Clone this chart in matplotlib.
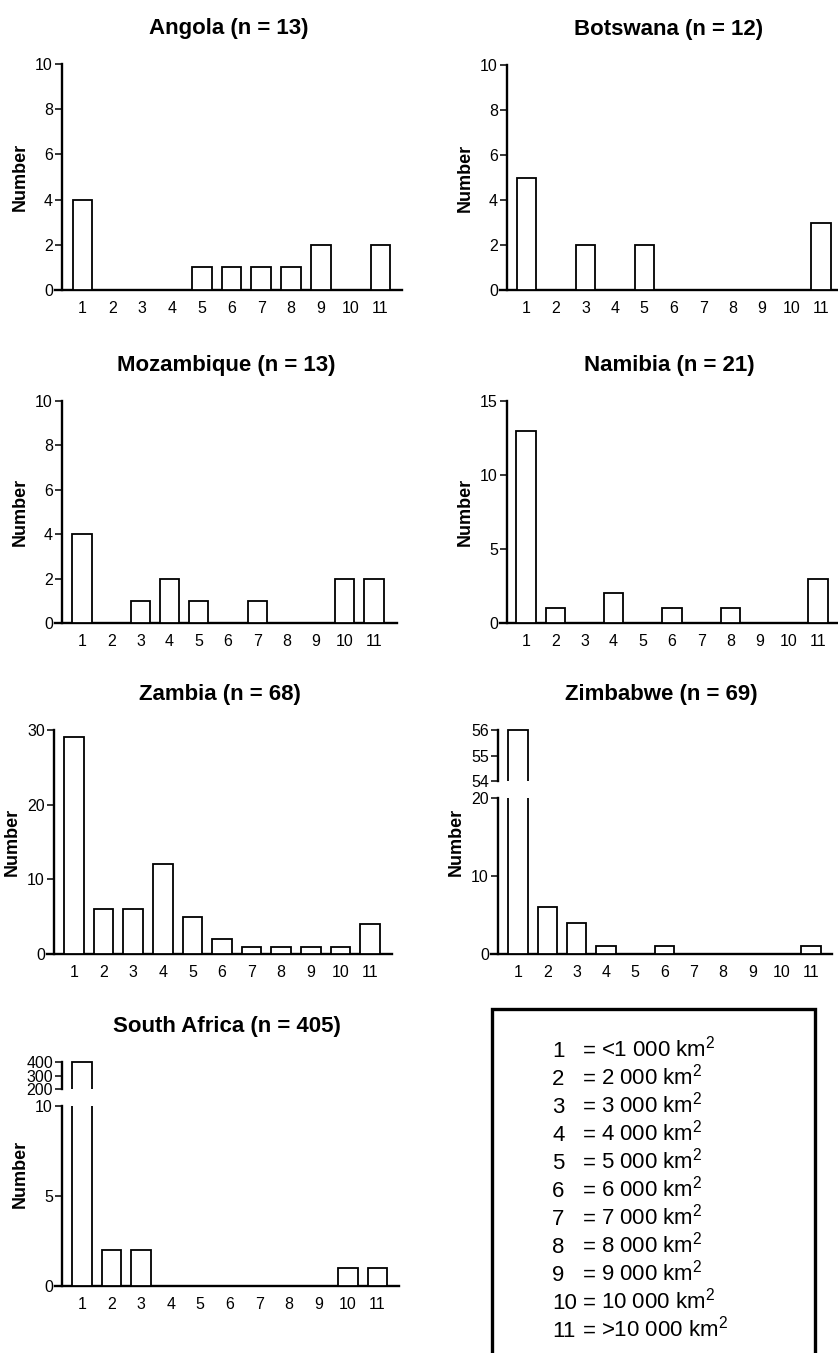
import matplotlib
matplotlib.use("Agg")
import matplotlib.pyplot as plt
from matplotlib.patches import Rectangle

plt.rcParams['font.family'] = ['Liberation Sans', 'DejaVu Sans']
plt.rcParams['mathtext.fontset'] = 'custom'
plt.rcParams['mathtext.rm'] = 'Liberation Sans'
plt.rcParams['mathtext.it'] = 'Liberation Sans'

# data
categories = list(range(1, 12))
countries = ['Angola', 'Botswana', 'Mozambique', 'Namibia', 'Zambia', 'Zimbabwe', 'South Africa']
n_values = [13, 12, 13, 21, 68, 69, 405]
angola = [4, 0, 0, 0, 1, 1, 1, 1, 2, 0, 2]
botswana = [5, 0, 2, 0, 2, 0, 0, 0, 0, 0, 3]
mozambique = [4, 0, 1, 2, 1, 0, 1, 0, 0, 2, 2]
namibia = [13, 1, 0, 2, 0, 1, 0, 1, 0, 0, 3]
zambia = [29, 6, 6, 12, 5, 2, 1, 1, 1, 1, 4]
zimbabwe = [56, 6, 4, 1, 0, 1, 0, 0, 0, 0, 1]
south_africa = [399, 2, 2, 0, 0, 0, 0, 0, 0, 1, 1]
counts = [angola, botswana, mozambique, namibia, zambia, zimbabwe, south_africa]

# y ticks: (lower ticks, upper ticks or None)
yticks_low = [[0, 2, 4, 6, 8, 10], [0, 2, 4, 6, 8, 10], [0, 2, 4, 6, 8, 10],
              [0, 5, 10, 15], [0, 10, 20, 30], [0, 10, 20], [0, 5, 10]]
yticks_up = [None, None, None, None, None, [54, 55, 56], [200, 300, 400]]

legend_values = ['<1 000', '2 000', '3 000', '4 000', '5 000', '6 000',
                 '7 000', '8 000', '9 000', '10 000', '>10 000']

# layout in pixels: y-axis x, bar 1 centre, bar step, right end, top, (break top, break bottom), baseline
W, H = 838, 1353
layout = [
    (62, 82.5, 29.8, 402, 64, None, None, 290),
    (507, 526.5, 29.45, 838, 65, None, None, 290),
    (62, 82, 29.2, 397, 401, None, None, 623),
    (507, 526, 29.2, 838, 401, None, None, 623),
    (54, 74, 29.6, 392, 730, None, None, 954),
    (498, 518, 29.3, 832, 730, 781, 798, 954),
    (62, 82, 29.55, 399, 1062, 1089, 1106, 1286),
]

fig = plt.figure(figsize=(W / 100, H / 100), dpi=100)


def add_px_axes(x0, x1, ytop, ybot):
    return fig.add_axes([x0 / W, 1 - ybot / H, (x1 - x0) / W, (ybot - ytop) / H])


def style(ax, yaxis_px, bar1, step, left_px, right_px):
    ax.set_xlim(1 - (bar1 - left_px) / step, 1 + (right_px - bar1) / step)
    ax.spines['left'].set_position(('data', 1 - (bar1 - yaxis_px) / step))
    ax.spines['top'].set_visible(False)
    ax.spines['right'].set_visible(False)
    ax.spines['left'].set_linewidth(1.7)
    ax.spines['bottom'].set_linewidth(1.7)
    ax.tick_params(axis='y', direction='out', length=5, width=1.1, pad=1.5, labelsize=11.5)
    ax.tick_params(axis='x', length=0, pad=8, labelsize=11.5)
    ax.set_xticks(categories)
    ax.patch.set_alpha(0)


for i, (yax, bar1, step, right, top, brk_top, brk_bot, base) in enumerate(layout):
    left = yax - 7
    vals = counts[i]
    title = f'{countries[i]} (n = {n_values[i]})'
    if brk_top is None:
        ax = add_px_axes(left, right, top, base)
        style(ax, yax, bar1, step, left, right)
        ymax = yticks_low[i][-1]
        ax.set_ylim(0, ymax)
        ax.spines['left'].set_bounds(0, ymax)
        ax.set_yticks(yticks_low[i])
        ax.bar(categories, vals, width=0.66, facecolor='white', edgecolor='black',
               linewidth=1.3, clip_on=False, zorder=3)
    else:
        # lower part
        ax = add_px_axes(left, right, brk_bot, base)
        style(ax, yax, bar1, step, left, right)
        lo_max = yticks_low[i][-1]
        ax.set_ylim(0, lo_max)
        ax.set_yticks(yticks_low[i])
        ax.set_yticks([lo_max], minor=True)
        ax.tick_params(axis='y', which='minor', direction='inout', length=9, width=2.2)
        ax.bar(categories, vals, width=0.66, facecolor='white', edgecolor='black',
               linewidth=1.3, zorder=3)
        # upper part, a little taller so the bar top edge is not clipped
        up = yticks_up[i]
        ppu = (brk_top - top) / (up[-1] - up[0])
        axu = add_px_axes(left, right, top - 3, brk_top)
        style(axu, yax, bar1, step, left, right)
        axu.spines['bottom'].set_visible(False)
        axu.set_ylim(up[0], up[-1] + 3 / ppu)
        axu.spines['left'].set_bounds(up[0], up[-1])
        axu.set_yticks(up)
        axu.set_yticks([up[0]], minor=True)
        axu.tick_params(axis='y', which='minor', direction='inout', length=9, width=2.2)
        axu.set_xticks([])
        axu.bar(categories, vals, width=0.66, facecolor='white', edgecolor='black',
                linewidth=1.3, zorder=3)
    fig.text((left + right) / 2 / W, 1 - (top - 30) / H, title, ha='center', va='baseline',
             fontsize=16, fontweight='bold')
    fig.text((yax - 42) / W, 1 - (top + base) / 2 / H, 'Number', rotation=90,
             ha='center', va='center', fontsize=13, fontweight='bold')

# legend box
box = Rectangle((492 / W, -0.02), (815 - 492) / W, 0.02 + 1 - 1009 / H,
                transform=fig.transFigure, fill=False, edgecolor='black', linewidth=2.4)
fig.patches.append(box)
for k, (c, v) in enumerate(zip(categories, legend_values)):
    yb = 1 - (1057 + 28 * k) / H
    fig.text(552 / W, yb, str(c), ha='left', va='baseline', fontsize=16)
    fig.text(583 / W, yb, '=', ha='left', va='baseline', fontsize=16)
    fig.text(601 / W, yb, v + ' km$^2$', ha='left', va='baseline', fontsize=16)

fig.savefig('out.png', dpi=100)
